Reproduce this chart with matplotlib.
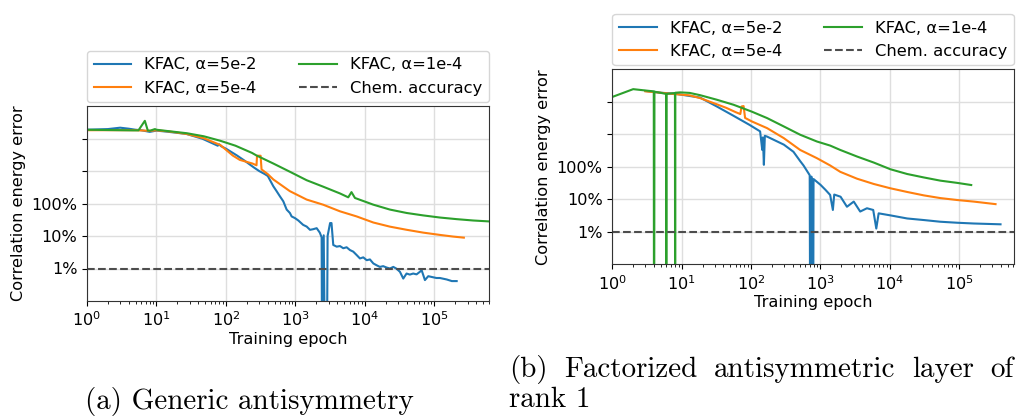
import matplotlib
matplotlib.use('Agg')
from matplotlib import pyplot as plt
from matplotlib.ticker import FixedLocator, FixedFormatter, NullLocator

# (a) generic antisymmetry: relative correlation energy error (1.0 == 100%)
GEN_A5E2_EPOCH = [1, 2, 3, 4, 5, 6, 8, 10, 15, 27, 46, 76, 80, 85, 101, 144, 184, 250, 300, 363,
                  400, 480, 535, 598, 668, 747, 832, 881, 984, 1100, 1290, 1450, 1620, 1800, 2020,
                  2240, 2380, 2450, 2550, 2770, 2900, 3150, 3300, 3500, 3920, 4370, 4880, 5450,
                  6080, 6790, 7590, 8470, 9460, 10600, 11800, 13200, 14700, 16400, 18300, 20500,
                  22900, 25600, 28600, 31900, 35600, 39700, 44300, 49500, 55300, 61700, 65400,
                  73000, 81500, 91000, 107000, 120000, 150000, 178000, 209000]
GEN_A5E2_ERR = [186, 195, 215, 200, 186, 180, 160, 175, 160, 138, 98, 60, 66, 58, 48, 30, 21, 13, 10, 8.0,
                7.0, 3.4, 2.4, 1.66, 1.17, 0.65, 0.51, 0.40, 0.355, 0.30, 0.22, 0.195, 0.155, 0.162, 0.174,
                0.127, 0.091, 1e-9, 0.105, 1e-9, 0.10, 0.25, 0.25, 0.053, 0.047, 0.049, 0.042, 0.045,
                0.037, 0.033, 0.026, 0.0204, 0.022, 0.018, 0.019, 0.0143, 0.0126, 0.0112, 0.0118, 0.0107,
                0.0100, 0.0112, 0.0098, 0.0079, 0.0049, 0.0070, 0.0065, 0.0070, 0.0066, 0.0079, 0.0089,
                0.0044, 0.0058, 0.0055, 0.0051, 0.0051, 0.0046, 0.0041, 0.0041]

GEN_A5E4_EPOCH = [1, 5, 8, 10, 15, 27, 48, 83, 125, 158, 200, 240, 275, 280, 315, 325, 400, 480,
                  830, 1450, 2500, 4370, 7600, 13200, 22900, 40000, 69000, 120000, 186000, 265000]
GEN_A5E4_ERR = [180, 180, 172, 178, 165, 138, 102, 63, 30, 22, 19, 17, 15, 29.5, 29.5, 11.2, 8.0, 5.5,
                2.4, 1.32, 0.92, 0.575, 0.40, 0.26, 0.194, 0.155, 0.127, 0.108, 0.096, 0.089]

GEN_A1E4_EPOCH = [1, 4.6, 5.5, 6.8, 7.5, 8.1, 9.5, 10, 15.8, 27.5, 48, 83, 137, 237, 275, 480, 830,
                  1450, 2500, 4370, 5750, 6400, 7180, 13200, 22900, 40000, 69000, 120000, 209000,
                  360000, 630000]
GEN_A1E4_ERR = [186, 178, 178, 350, 176, 174, 195, 186, 166, 145, 117, 85, 60, 36, 30, 17, 9.5,
                5.2, 3.3, 2.04, 1.55, 2.24, 1.48, 0.92, 0.65, 0.51, 0.43, 0.37, 0.33, 0.30, 0.28]

# (b) factorized antisymmetric layer of rank 1
FAC_A5E2_EPOCH = [3, 5, 8, 13, 18.4, 32, 56, 95, 135, 145, 148, 153, 158, 170, 297, 408, 510,
                  570, 673, 700, 720, 740, 780, 795, 1000, 1180, 1380, 1510, 1580, 1950, 2410, 3020,
                  3740, 4680, 5760, 6380, 6900, 10200, 17800, 30900, 53500, 93500, 162000, 394000]
FAC_A5E2_ERR = [215, 190, 178, 151, 135, 72, 37, 19.5, 12.3, 3.3, 8, 1.15, 9.0, 8.5, 4.8, 2.9, 1.5,
                1.1, 0.63, 0.55, 1e-9, 0.5, 1e-9, 0.42, 0.28, 0.196, 0.136, 0.047, 0.14, 0.12, 0.059, 0.085,
                0.042, 0.053, 0.047, 0.0126, 0.037, 0.032, 0.0257, 0.023, 0.0204, 0.019, 0.018, 0.017]

FAC_A5E4_EPOCH = [3, 5, 8, 13, 18.4, 32, 44, 60, 70, 73, 78, 82, 102, 170, 297, 510, 890, 1380, 1930,
                  3370, 5870, 10200, 17800, 30900, 53500, 93500, 162000, 334000]
FAC_A5E4_ERR = [210, 190, 172, 158, 130, 84, 65, 48, 42, 72, 74, 32, 25, 15.5, 7.6, 3.3, 1.84, 1.1, 0.7,
                0.43, 0.296, 0.218, 0.168, 0.132, 0.109, 0.095, 0.085, 0.071]

FAC_A1E4_EPOCH = [1, 2, 3.96, 4.0, 4.05, 4.6, 5.96, 6.0, 6.05, 8.0, 8.05, 8.1, 9.5, 13, 18.4, 32, 56,
                  102, 170, 297, 510, 890, 1380, 1930, 3370, 5870, 10200, 17800, 30900, 53500, 93500,
                  149000]
FAC_A1E4_ERR = [141, 245, 209, 1e-9, 205, 195, 175, 1e-9, 175, 186, 1e-9, 190, 195, 188, 160, 116, 81,
                50, 31.6, 17.4, 9.7, 6.0, 4.5, 3.3, 2.07, 1.35, 0.84, 0.60, 0.47, 0.375, 0.32, 0.275]

CHEM_ACCURACY = 0.01
LABELS = ['KFAC, α=5e-2', 'KFAC, α=5e-4', 'KFAC, α=1e-4']
COLORS = ['tab:blue', 'tab:orange', 'tab:green']
Y_TICKS = [0.01, 0.1, 1, 10, 100]
Y_TICK_LABELS = ['1%', '10%', '100%', '', '']

FONT_SIZE = 11.6
LEGEND_SIZE = 11.8
CAPTION_SIZE = 20.9
W, H = 1034, 416


def draw_panel(ax, runs):
    for (epochs, errs), label, color in zip(runs, LABELS, COLORS):
        ax.plot(epochs, errs, color=color, lw=1.5, label=label)
    ax.axhline(CHEM_ACCURACY, color='0.3', ls='--', lw=1.5, label='Chem. accuracy')
    ax.set_xscale('log')
    ax.set_yscale('log')
    ax.set_xlim(1, 6.1e5)
    ax.set_ylim(1e-3, 1e3)
    ax.yaxis.set_major_locator(FixedLocator(Y_TICKS))
    ax.yaxis.set_major_formatter(FixedFormatter(Y_TICK_LABELS))
    ax.yaxis.set_minor_locator(NullLocator())
    ax.grid(True, color='0.87', lw=1.0)
    ax.tick_params(labelsize=FONT_SIZE)
    for spine in ax.spines.values():
        spine.set_color('0.2')
    ax.set_xlabel('Training epoch', fontsize=FONT_SIZE, labelpad=2)
    ax.set_ylabel('Correlation energy error', fontsize=FONT_SIZE)
    ax.legend(bbox_to_anchor=(0, 1.02, 1, 0.2), loc='lower left', mode='expand', ncol=2,
              borderaxespad=0, fontsize=LEGEND_SIZE, handlelength=2.3)


def justified_line(fig, words, x0, x1, y, **kw):
    texts = [fig.text(0, y, w, va='baseline', **kw) for w in words]
    renderer = fig.canvas.get_renderer()
    widths = [t.get_window_extent(renderer).width for t in texts]
    gap = (x1 - x0 - sum(widths)) / (len(words) - 1)
    x = x0
    for t, w in zip(texts, widths):
        t.set_x(x / W)
        x += w + gap


fig = plt.figure(figsize=(W / 100, H / 100), dpi=100)
ax_a = fig.add_axes([87 / W, 1 - 301 / H, 402 / W, 195 / H])
ax_b = fig.add_axes([612.3 / W, 1 - 264.3 / H, 401.4 / W, 195 / H])

draw_panel(ax_a, [(GEN_A5E2_EPOCH, GEN_A5E2_ERR), (GEN_A5E4_EPOCH, GEN_A5E4_ERR),
                  (GEN_A1E4_EPOCH, GEN_A1E4_ERR)])
draw_panel(ax_b, [(FAC_A5E2_EPOCH, FAC_A5E2_ERR), (FAC_A5E4_EPOCH, FAC_A5E4_ERR),
                  (FAC_A1E4_EPOCH, FAC_A1E4_ERR)])

caption = dict(fontfamily='cmr10', fontsize=CAPTION_SIZE)
fig.text(249.5 / W, 1 - 409 / H, '(a) Generic antisymmetry', ha='center', va='baseline', **caption)
justified_line(fig, ['(b)', 'Factorized', 'antisymmetric', 'layer', 'of'], 509, 1013.5,
               1 - 377 / H, **caption)
fig.text(509 / W, 1 - 407 / H, 'rank 1', ha='left', va='baseline', **caption)

fig.savefig('out.png', dpi=100)
